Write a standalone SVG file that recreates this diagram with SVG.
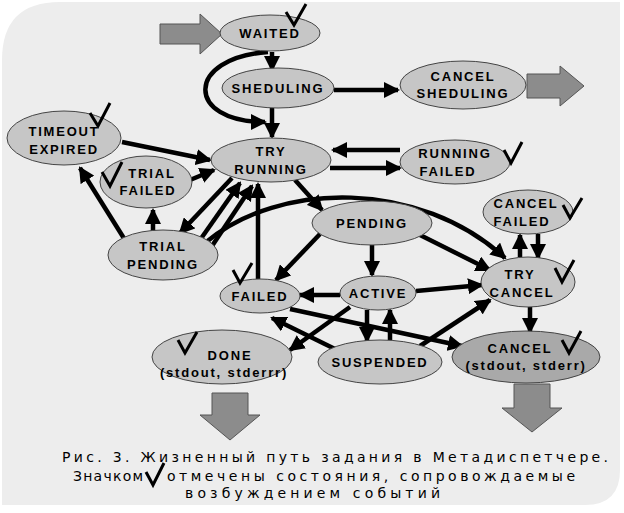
<svg xmlns="http://www.w3.org/2000/svg" width="624" height="513" viewBox="0 0 624 513">
<style>
.n ellipse{fill:#c6c6c6;stroke:#444;stroke-width:1}
.n text{font-family:"Liberation Sans",Arial,sans-serif;font-weight:bold;font-size:13px;letter-spacing:1.8px;text-anchor:middle;fill:#000}
.e path{fill:none;stroke:#000;stroke-width:4.5;marker-end:url(#a)}
.ck{fill:none;stroke:#000;stroke-width:3}
.big{fill:#8c8c8c;stroke:#555;stroke-width:1}
.cap{font-family:"DejaVu Sans","Liberation Sans",sans-serif;font-size:14px;fill:#000}
</style>
<defs>
<marker id="a" markerUnits="userSpaceOnUse" markerWidth="16" markerHeight="16" refX="14" refY="8" orient="auto"><path d="M0,0 L16,8 L0,16 Z" fill="#000"/></marker>
</defs>
<rect x="0" y="0" width="624" height="513" fill="#fff"/>
<path d="M60,2 H620 V470 Q620,505 585,505 H2 V60 Q2,2 60,2 Z" fill="#ededed"/>
<polygon class="big" points="160,24 200,24 200,14 222,34 200,54 200,44 160,44"/>
<polygon class="big" points="527,74 560,74 560,66 584,86 560,106 560,98 527,98"/>
<polygon class="big" points="212,393 248,393 248,415 260,415 230,440 200,415 212,415"/>
<polygon class="big" points="514,384 550,384 550,408 562,408 532,432 502,408 514,408"/>
<g class="e">
<path d="M272,52 V70"/>
<path d="M268,52 C185,58 185,122 265,122"/>
<path d="M272,108 V137"/>
<path d="M334,90 H398"/>
<path d="M122,142 L210,160"/>
<path d="M190,180 L214,170"/>
<path d="M330,168 H400"/>
<path d="M400,150 H333"/>
<path d="M232,178 L180,233"/>
<path d="M200,240 L240,183"/>
<path d="M212,246 L252,186"/>
<path d="M125,240 L80,168"/>
<path d="M153,233 V210"/>
<path d="M205,243 C280,180 420,180 505,258"/>
<path d="M295,180 L322,210"/>
<path d="M258,279 V184"/>
<path d="M320,234 L276,280"/>
<path d="M372,245 V275"/>
<path d="M420,235 L490,270"/>
<path d="M340,295 H300"/>
<path d="M416,291 L482,285"/>
<path d="M520,257 V235"/>
<path d="M538,234 V258"/>
<path d="M530,307 V332"/>
<path d="M290,309 L462,346"/>
<path d="M350,307 L290,350"/>
<path d="M335,349 L272,318"/>
<path d="M367,310 V341"/>
<path d="M390,340 V310"/>
<path d="M420,346 L490,300"/>
</g>
<g id="waited" class="n"><ellipse cx="270" cy="33" rx="50" ry="18"/><text x="270" y="38">WAITED</text></g>
<g id="sheduling" class="n"><ellipse cx="278" cy="88" rx="56" ry="20"/><text x="278" y="93">SHEDULING</text></g>
<g id="cancelsheduling" class="n"><ellipse cx="463" cy="85" rx="63" ry="24"/><text x="463" y="81">CANCEL</text><text x="463" y="98">SHEDULING</text></g>
<g id="timeout" class="n"><ellipse cx="64" cy="138" rx="57" ry="27"/><text x="64" y="136">TIMEOUT</text><text x="64" y="154">EXPIRED</text></g>
<g id="trialfailed" class="n"><ellipse cx="146" cy="182" rx="46" ry="26"/><text x="152" y="178">TRIAL</text><text x="148" y="195">FAILED</text></g>
<g id="tryrunning" class="n"><ellipse cx="271" cy="160" rx="60" ry="22"/><text x="271" y="156">TRY</text><text x="271" y="174">RUNNING</text></g>
<g id="runningfailed" class="n"><ellipse cx="455" cy="162" rx="55" ry="22"/><text x="455" y="158">RUNNING</text><text x="448" y="176">FAILED</text></g>
<g id="pending" class="n"><ellipse cx="372" cy="223" rx="60" ry="22"/><text x="372" y="228">PENDING</text></g>
<g id="cancelfailed" class="n"><ellipse cx="528" cy="212" rx="45" ry="22"/><text x="526" y="208">CANCEL</text><text x="522" y="226">FAILED</text></g>
<g id="trialpending" class="n"><ellipse cx="163" cy="255" rx="55" ry="25"/><text x="163" y="251">TRIAL</text><text x="163" y="269">PENDING</text></g>
<g id="failed" class="n"><ellipse cx="260" cy="296" rx="40" ry="17"/><text x="260" y="301">FAILED</text></g>
<g id="active" class="n"><ellipse cx="378" cy="293" rx="38" ry="17"/><text x="378" y="298">ACTIVE</text></g>
<g id="trycancel" class="n"><ellipse cx="528" cy="282" rx="47" ry="25"/><text x="520" y="279">TRY</text><text x="522" y="297">CANCEL</text></g>
<g id="done" class="n"><ellipse cx="222" cy="357" rx="70" ry="27"/><text x="230" y="360">DONE</text><text x="224" y="377">(stdout, stderrr)</text></g>
<g id="suspended" class="n"><ellipse cx="380" cy="362" rx="62" ry="22"/><text x="380" y="367">SUSPENDED</text></g>
<g id="cancelout" class="n"><ellipse cx="526" cy="357" rx="74" ry="26" style="fill:#a9a9a9"/><text x="520" y="353">CANCEL</text><text x="526" y="370">(stdout, stderr)</text></g>
<g>
<path class="ck" d="M286,12 L294,25 L306,4"/>
<path class="ck" d="M90,113 L98,126 L110,103"/>
<path class="ck" d="M102,172 L110,186 L122,162"/>
<path class="ck" d="M504,150 L511,163 L522,142"/>
<path class="ck" d="M563,205 L570,218 L582,198"/>
<path class="ck" d="M233,270 L240,283 L252,263"/>
<path class="ck" d="M555,268 L562,282 L574,260"/>
<path class="ck" d="M178,340 L185,353 L197,332"/>
<path class="ck" d="M562,340 L569,353 L581,331"/>
<path class="ck" d="M146,472 L153,485 L164,463"/>
</g>
<text class="cap" x="62" y="462" textLength="546" lengthAdjust="spacing">Рис. 3. Жизненный путь задания в Метадиспетчере.</text>
<text class="cap" x="73" y="481" textLength="70" lengthAdjust="spacing">Значком</text>
<text class="cap" x="167" y="481" textLength="408" lengthAdjust="spacing">отмечены состояния, сопровождаемые</text>
<text class="cap" x="185" y="498" textLength="255" lengthAdjust="spacing">возбуждением событий</text>
</svg>
